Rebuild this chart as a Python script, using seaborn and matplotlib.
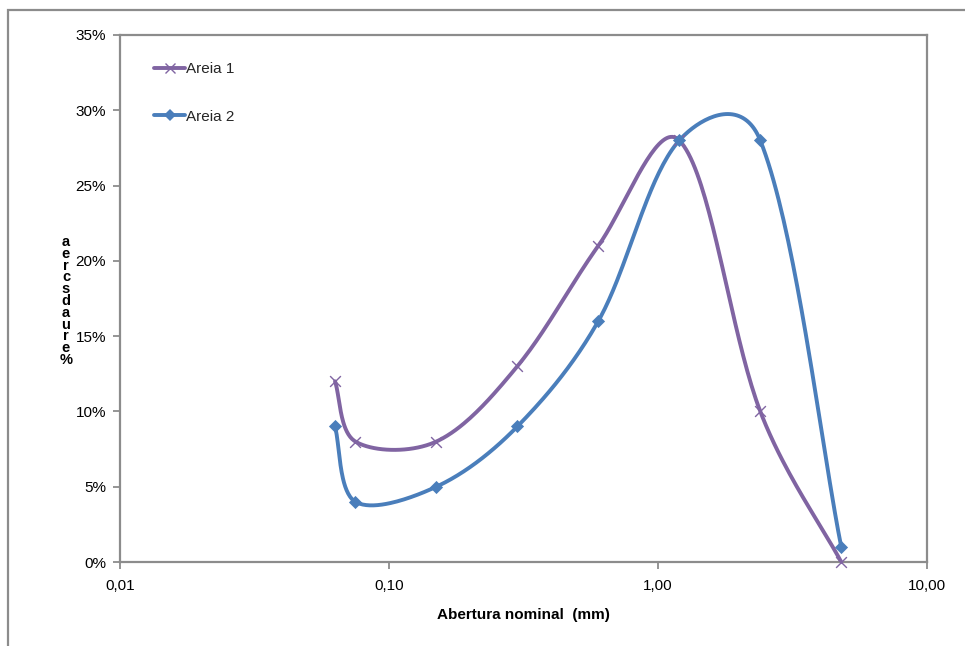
import numpy as np
import pandas as pd
import matplotlib
matplotlib.use("Agg")
import matplotlib.pyplot as plt
from matplotlib.lines import Line2D
from matplotlib.patches import Rectangle
from matplotlib.ticker import FixedLocator, FuncFormatter, NullLocator
import seaborn as sns

# ---- data ----
abertura = [0.063, 0.075, 0.15, 0.3, 0.6, 1.2, 2.4, 4.8]
areia1 = [12, 8, 8, 13, 21, 28, 10, 0]
areia2 = [9, 4, 5, 9, 16, 28, 28, 1]
series_names = ["Areia 1", "Areia 2"]
x_ticks = [0.01, 0.1, 1, 10]
x_tick_labels = ["0,01", "0,10", "1,00", "10,00"]
y_ticks = [0, 5, 10, 15, 20, 25, 30, 35]

colors = {"Areia 1": "#8064A2", "Areia 2": "#4A7EBB"}

sns.set_theme(style="white")
plt.rcParams["font.family"] = ["Liberation Sans", "DejaVu Sans"]

W, H = 965, 646
fig = plt.figure(figsize=(W / 100, H / 100), dpi=100)
L, R, T, B = 120, 927, 35, 562
ax = fig.add_axes([L / W, 1 - B / H, (R - L) / W, (B - T) / H])

# figure (chart area) border
fig.patches.append(Rectangle((8 / W, -0.1), 1.2, 1 - 10 / H + 0.1, transform=fig.transFigure,
                             fill=False, edgecolor="#8C8C8C", linewidth=1.6, zorder=0))

PW, PH = R - L, B - T


def smooth(xs, ys, n=40, mix=0.5):
    # Excel-like smoothed line (Bezier) in screen-like space
    u = (np.log10(np.asarray(xs, float)) + 2) / 3 * PW
    v = np.asarray(ys, float) / 35 * PH
    P = np.column_stack([u, v])
    m = len(P)
    out = []
    for i in range(m - 1):
        p0 = P[i - 1] if i > 0 else P[i]
        p1 = P[i]
        p2 = P[i + 1]
        p3 = P[i + 2] if i + 2 < m else P[i + 1]
        d01 = np.linalg.norm(p1 - p0)
        d12 = np.linalg.norm(p2 - p1)
        d23 = np.linalg.norm(p3 - p2)
        w1 = d12 / (d01 + d12) / 3 if (d01 + d12) > 0 else 0
        w2 = d12 / (d12 + d23) / 3 if (d12 + d23) > 0 else 0
        f1 = mix * w1 + (1 - mix) / 6
        f2 = mix * w2 + (1 - mix) / 6
        c1 = p1 + (p2 - p0) * f1
        c2 = p2 - (p3 - p1) * f2
        t = np.linspace(0, 1, n, endpoint=(i == m - 2))[:, None]
        seg = (1 - t) ** 3 * p1 + 3 * (1 - t) ** 2 * t * c1 + 3 * (1 - t) * t ** 2 * c2 + t ** 3 * p2
        out.append(seg)
    S = np.vstack(out)
    xo = 10 ** (S[:, 0] / PW * 3 - 2)
    yo = S[:, 1] / PH * 35
    return xo, yo


frames = []
for name, ys in zip(series_names, [areia1, areia2]):
    xs_s, ys_s = smooth(abertura, ys)
    frames.append(pd.DataFrame({"x": xs_s, "y": ys_s, "serie": name}))
curve = pd.concat(frames, ignore_index=True)

pts = pd.DataFrame({
    "x": abertura * 2,
    "y": areia1 + areia2,
    "serie": ["Areia 1"] * len(abertura) + ["Areia 2"] * len(abertura),
})

sns.lineplot(data=curve, x="x", y="y", hue="serie", units="serie", estimator=None, sort=False,
             palette=colors, linewidth=2.8, legend=False, ax=ax, zorder=3)
sns.scatterplot(data=pts[pts.serie == "Areia 1"], x="x", y="y", color=colors["Areia 1"], marker="x",
                s=60, linewidth=1.0, legend=False, ax=ax, zorder=4)
sns.scatterplot(data=pts[pts.serie == "Areia 2"], x="x", y="y", color=colors["Areia 2"], marker="D",
                s=45, linewidth=0, legend=False, ax=ax, zorder=4)
for coll in ax.collections:
    coll.set_clip_on(False)

ax.set_xscale("log")
ax.set_xlim(0.01, 10)
ax.set_ylim(0, 35)
ax.xaxis.set_major_locator(FixedLocator(x_ticks))
ax.xaxis.set_minor_locator(NullLocator())
ax.set_xticklabels(x_tick_labels)
ax.yaxis.set_major_locator(FixedLocator(y_ticks))
ax.yaxis.set_major_formatter(FuncFormatter(lambda v, p: f"{int(round(v))}%"))

for s in ax.spines.values():
    s.set_visible(True)
    s.set_color("#8C8C8C")
    s.set_linewidth(1.6)
ax.tick_params(axis="both", which="major", direction="out", length=5, width=1.3, color="#8C8C8C",
               labelsize=11, labelcolor="black", pad=7, bottom=True, left=True)
ax.tick_params(axis="y", pad=5)

ax.set_xlabel("Abertura nominal  (mm)", fontsize=11, fontweight="bold", labelpad=11, color="black")
ax.set_ylabel("")

# stacked (vertical) y label as in the reference
fig.text(66 / W, 1 - 301 / H, "a\ne\nr\nc\ns\nd\na\nu\nr\ne\n%", ha="center", va="center",
         fontsize=10.5, fontweight="bold", linespacing=0.8, color="black")

handles = [
    Line2D([0], [0], color=colors["Areia 1"], linewidth=2.8, marker="x", markersize=7, markeredgewidth=1.0),
    Line2D([0], [0], color=colors["Areia 2"], linewidth=2.8, marker="D", markersize=6, markeredgewidth=0),
]
ax.legend(handles, series_names, loc="upper left", bbox_to_anchor=(0.035, 0.96), frameon=False,
          fontsize=11, handlelength=2.0, handletextpad=0.05, labelspacing=2.2, borderaxespad=0)

fig.savefig("out.png", dpi=100)
